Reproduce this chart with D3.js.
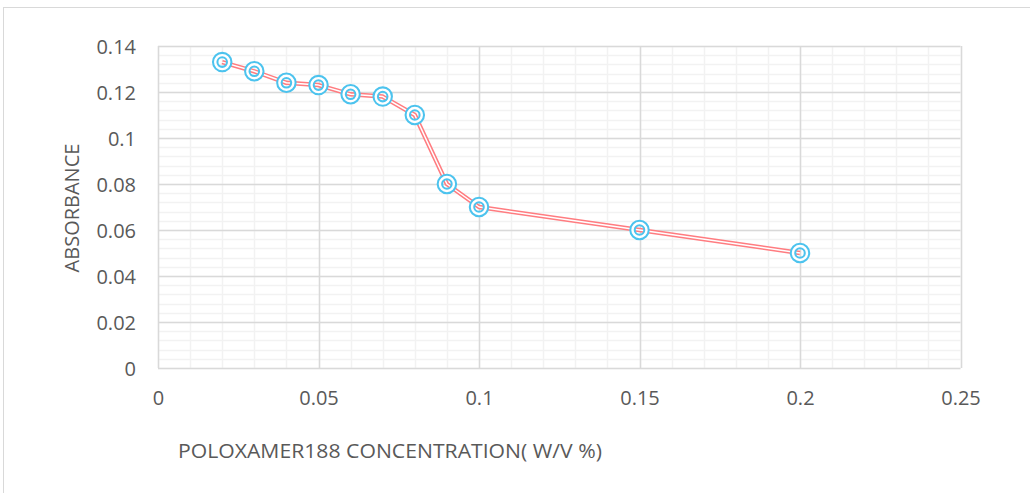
<!DOCTYPE html>
<html>
<head>
<meta charset="utf-8">
<script src="https://cdn.jsdelivr.net/npm/d3@7"></script>
<style>
  html, body { margin: 0; padding: 0; background: #fff; }
  svg { display: block; }
  text { font-family: "Open Sans", "Liberation Sans", sans-serif; fill: #595959; }
</style>
</head>
<body>
<svg id="chart" width="1030" height="493"></svg>
<script>
// ---- data ----
const concentration = [0.02, 0.03, 0.04, 0.05, 0.06, 0.07, 0.08, 0.09, 0.1, 0.15, 0.2];
const absorbance    = [0.133, 0.129, 0.124, 0.123, 0.119, 0.118, 0.11, 0.08, 0.07, 0.06, 0.05];
const xTicks = [0, 0.05, 0.1, 0.15, 0.2, 0.25];
const yTicks = [0, 0.02, 0.04, 0.06, 0.08, 0.1, 0.12, 0.14];
const xTitle = "POLOXAMER188 CONCENTRATION( W/V %)";
const yTitle = "ABSORBANCE";

const svg = d3.select("#chart");
const pLeft = 158, pRight = 960.5, pTop = 46, pBottom = 368;

const x = d3.scaleLinear().domain([0, 0.25]).range([pLeft, pRight]);
const y = d3.scaleLinear().domain([0, 0.14]).range([pBottom, pTop]);

// outer chart border
svg.append("rect").attr("x", 3.5).attr("y", 7.5).attr("width", 1200).attr("height", 700)
  .attr("fill", "none").attr("stroke", "#d9d9d9").attr("stroke-width", 1);

// minor grid
const xMinor = d3.range(0, 26).map(i => i * 0.01);
const yMinor = d3.range(0, 36).map(i => i * 0.004);
const g = svg.append("g");
g.selectAll(".xm").data(xMinor).join("line")
  .attr("x1", d => Math.round(x(d)) + 0.5).attr("x2", d => Math.round(x(d)) + 0.5)
  .attr("y1", pTop).attr("y2", pBottom).attr("stroke", "#f2f2f2").attr("stroke-width", 1.5);
g.selectAll(".ym").data(yMinor).join("line")
  .attr("y1", d => Math.round(y(d)) + 0.5).attr("y2", d => Math.round(y(d)) + 0.5)
  .attr("x1", pLeft).attr("x2", pRight).attr("stroke", "#f2f2f2").attr("stroke-width", 1.5);

// major grid
g.selectAll(".xM").data(xTicks).join("line")
  .attr("x1", d => Math.round(x(d)) + 0.5).attr("x2", d => Math.round(x(d)) + 0.5)
  .attr("y1", pTop).attr("y2", pBottom).attr("stroke", "#d9d9d9").attr("stroke-width", 1.5);
g.selectAll(".yM").data(yTicks).join("line")
  .attr("y1", d => Math.round(y(d)) + 0.5).attr("y2", d => Math.round(y(d)) + 0.5)
  .attr("x1", pLeft).attr("x2", pRight).attr("stroke", "#d9d9d9").attr("stroke-width", 1.5);

// axes (labels only)
const xAxis = d3.axisBottom(x).tickValues(xTicks).tickSize(0).tickPadding(0)
  .tickFormat(d => String(d));
const yAxis = d3.axisLeft(y).tickValues(yTicks).tickSize(0).tickPadding(0)
  .tickFormat(d => String(d));

const gx = svg.append("g").attr("transform", `translate(0,${pBottom + 37})`).call(xAxis);
gx.select(".domain").remove();
gx.selectAll("text").attr("dy", 0).attr("font-size", 20).style("fill", "#595959")
  .attr("font-family", "'Open Sans', sans-serif");

const gy = svg.append("g").attr("transform", `translate(${pLeft - 22},0)`).call(yAxis);
gy.select(".domain").remove();
gy.selectAll("text").attr("dy", "0.35em").attr("font-size", 20).style("fill", "#595959")
  .attr("font-family", "'Open Sans', sans-serif");

// titles
svg.append("text").attr("x", 178).attr("y", 458).attr("font-size", 20)
  .attr("textLength", 424).attr("lengthAdjust", "spacingAndGlyphs").text(xTitle);
svg.append("text").attr("transform", `translate(79,208) rotate(-90)`)
  .attr("text-anchor", "middle").attr("font-size", 20).text(yTitle);

// series line (double compound line)
const pts = concentration.map((c, i) => [c, absorbance[i]]);
const line = d3.line().x(d => x(d[0])).y(d => y(d[1]));
svg.append("path").datum(pts).attr("d", line).attr("fill", "none")
  .attr("stroke", "#ff7c80").attr("stroke-width", 4.5).attr("stroke-linejoin", "round");
svg.append("path").datum(pts).attr("d", line).attr("fill", "none")
  .attr("stroke", "#ffffff").attr("stroke-width", 1.5).attr("stroke-linejoin", "round");

// markers (double ring)
const mk = svg.append("g").selectAll("g").data(pts).join("g")
  .attr("transform", d => `translate(${x(d[0])},${y(d[1])})`);
mk.append("circle").attr("r", 7).attr("fill", "none")
  .attr("stroke", "#4cc3ee").attr("stroke-width", 6.5);
mk.append("circle").attr("r", 7).attr("fill", "none")
  .attr("stroke", "#ffffff").attr("stroke-width", 2.4);
</script>
</body>
</html>
